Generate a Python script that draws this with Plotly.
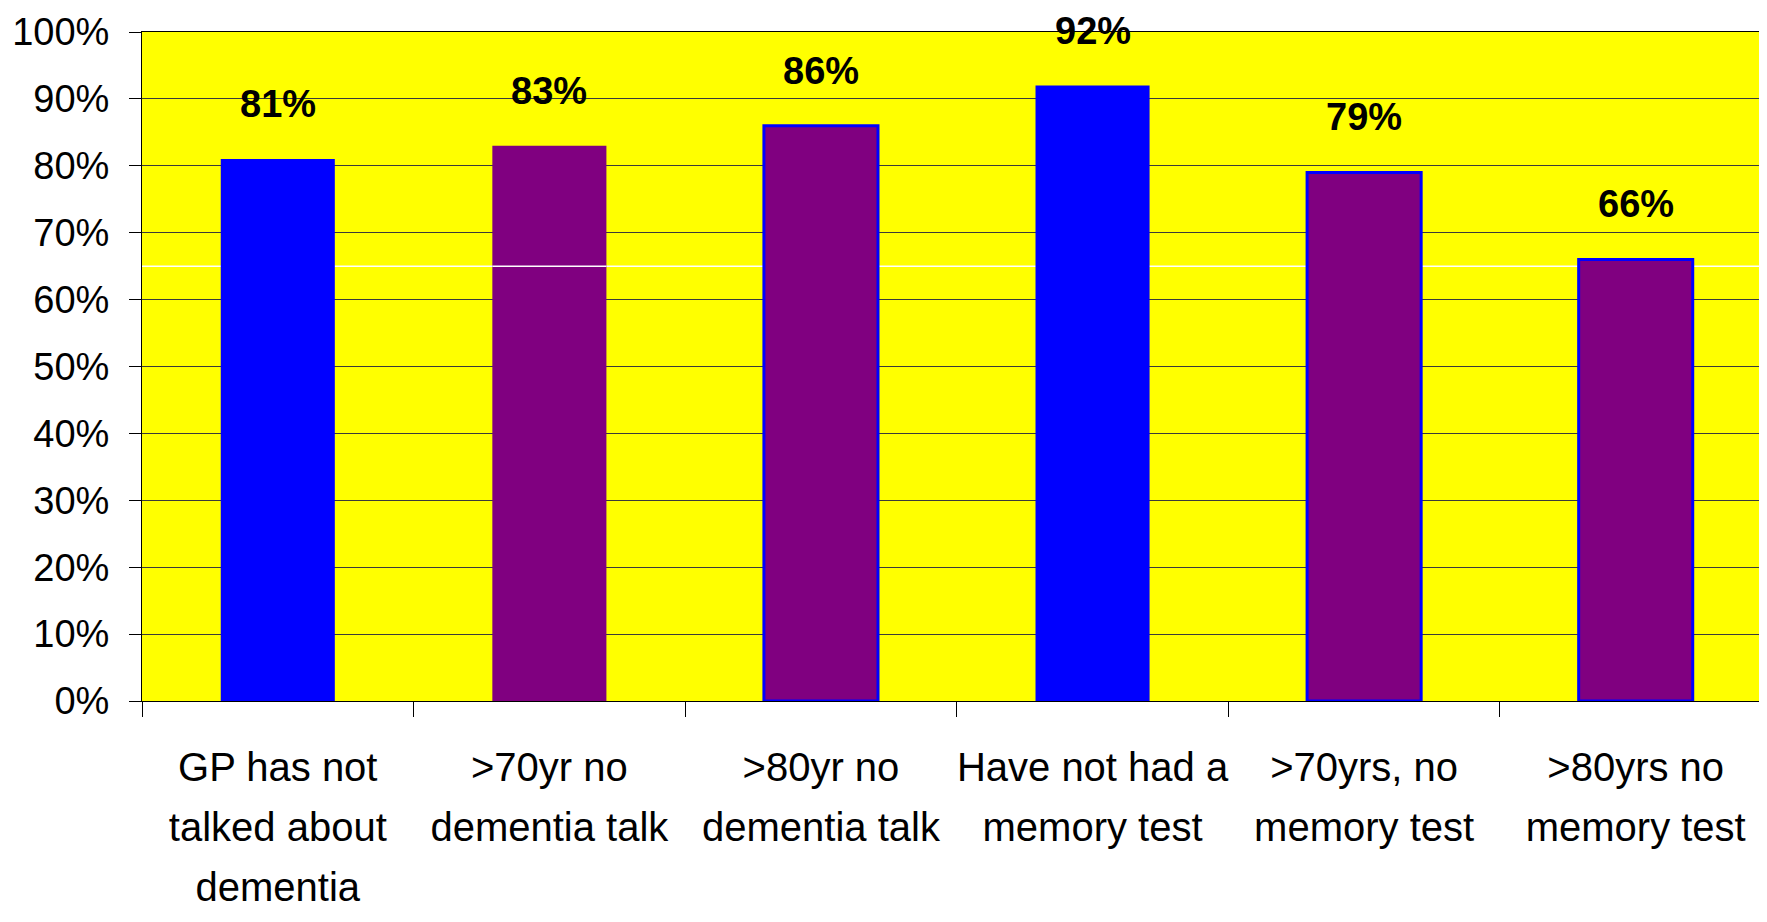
import plotly.graph_objects as go

categories = [
    "GP has not<br>talked about<br>dementia",
    ">70yr no<br>dementia talk",
    ">80yr no<br>dementia talk",
    "Have not had a<br>memory test",
    ">70yrs, no<br>memory test",
    ">80yrs no<br>memory test",
]
values = [81, 83, 86, 92, 79, 66]
bar_colors = ["#0000FF", "#800080", "#800080", "#0000FF", "#800080", "#800080"]
edge_widths = [0, 0, 3, 0, 3, 3]

FONT = "Liberation Sans Narrow, Arial Narrow, Liberation Sans, Arial"

# glyphs at 40px but line pitch from a larger base font (looser spacing as in the original)
ticktext = ["<br>".join(f"<span style='font-size:40px'>{s}</span>" for s in c.split("<br>"))
            for c in categories]

fig = go.Figure(go.Bar(
    x=categories,
    y=values,
    width=0.42,
    marker=dict(color=bar_colors, line=dict(color="#0000FF", width=edge_widths)),
    hoverinfo="y",
))

for cat, v in zip(categories, values):
    fig.add_annotation(
        x=cat, y=v, text=f"<b>{v}%</b>", showarrow=False,
        yanchor="bottom", yshift=32,
        font=dict(family=FONT, size=38, color="black"),
    )

# faint white streak across the plot area, as in the source image
fig.add_shape(type="line", xref="paper", x0=0, x1=1, y0=65, y1=65,
              line=dict(color="white", width=1.5), layer="between")
fig.add_shape(type="line", xref="x", x0=0.79, x1=1.21, y0=65, y1=65,
              line=dict(color="white", width=1.5), layer="above")

# page body has an 8px margin; size the figure so it fits the window exactly
fig.update_layout(
    width=1751, height=906,
    margin=dict(l=134, r=0, t=24, b=213),
    paper_bgcolor="white",
    plot_bgcolor="#FFFF00",
    showlegend=False,
    font=dict(family=FONT, size=40, color="black"),
)
fig.update_xaxes(
    range=[-0.5, 5.454],
    tickvals=categories, ticktext=ticktext,
    showline=True, linecolor="black", linewidth=1, mirror=True,
    ticks="outside", tickson="boundaries", ticklen=15, tickcolor="black",
    showgrid=False, ticklabelstandoff=24, tickangle=0, automargin=False,
    tickfont=dict(family=FONT, size=46),
)
fig.update_yaxes(
    range=[0, 100], dtick=10, ticksuffix="%",
    showline=True, linecolor="black", linewidth=1,
    ticks="outside", ticklen=12, tickcolor="black",
    showgrid=True, gridcolor="#3a3a3a", gridwidth=1,
    zeroline=False, ticklabelstandoff=12, automargin=False,
    tickfont=dict(family=FONT, size=38),
)

fig.write_html("out.html")
